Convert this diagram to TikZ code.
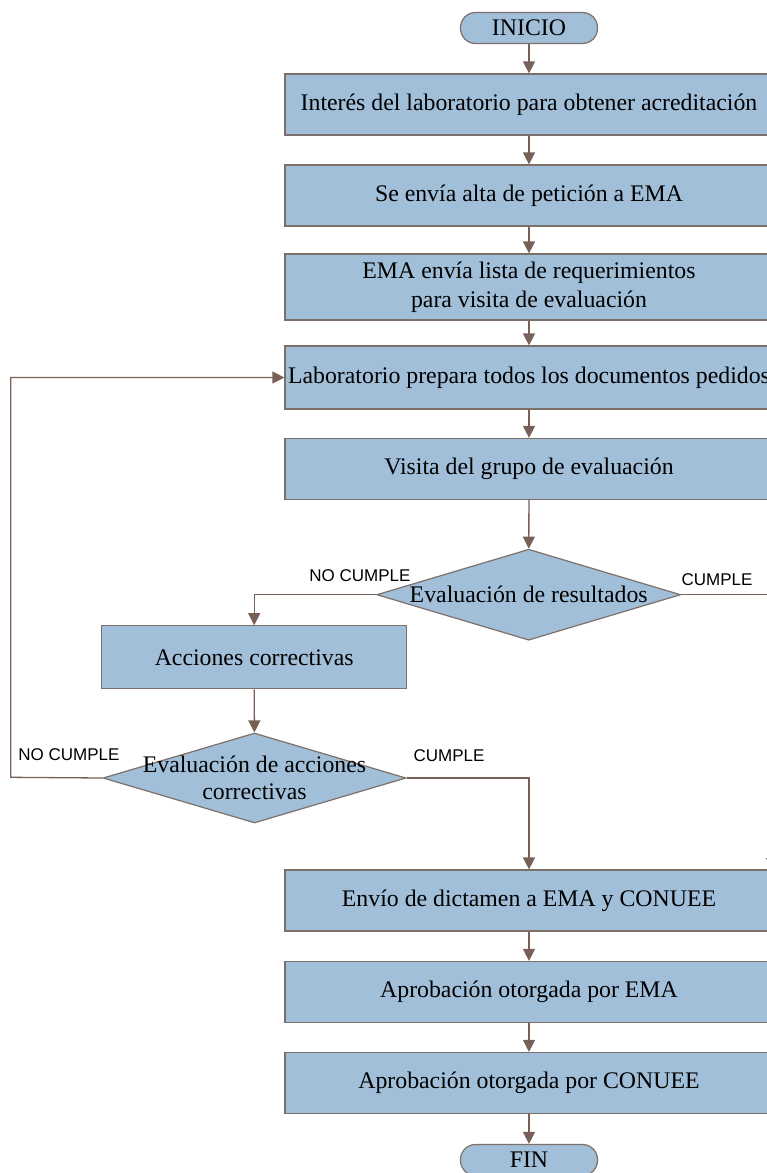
\documentclass[tikz,border=0pt]{standalone}
\usepackage{fontspec}
\setmainfont{Liberation Serif}
\newfontfamily\lblfont{Liberation Sans}
\usetikzlibrary{shapes.geometric,arrows.meta}
\definecolor{boxfill}{RGB}{161,191,216}
\definecolor{boxline}{RGB}{125,112,106}
\definecolor{arrowc}{RGB}{120,96,86}
\begin{document}
\begin{tikzpicture}[x=1pt,y=-1pt,
 box/.style={draw=boxline,line width=1.2pt,fill=boxfill,minimum width=488pt,minimum height=61pt,inner sep=0pt,font=\fontsize{23.8}{29}\selectfont,align=center},
 term/.style={draw=boxline,line width=1.2pt,fill=boxfill,rounded corners=15pt,minimum width=137pt,minimum height=31pt,inner sep=0pt,font=\fontsize{23.8}{28}\selectfont},
 dec/.style={diamond,draw=boxline,line width=1.2pt,fill=boxfill,minimum width=304pt,minimum height=91pt,inner sep=0pt,font=\fontsize{23.8}{26.5}\selectfont,align=center},
 conn/.style={draw=arrowc,line width=1.3pt,-{Triangle[length=12pt,width=12pt]}},
 lbl/.style={font=\lblfont\fontsize{17}{20}\selectfont,inner sep=0pt}]
\useasboundingbox (0,0) rectangle (767,1173);
\clip (0,0) rectangle (767,1173);
\node[term] (start) at (529,28) {INICIO};
\node[box] (b1) at (529,104.5) {Interés del laboratorio para obtener acreditación};
\node[box] (b2) at (529,195.5) {Se envía alta de petición a EMA};
\node[box,minimum height=66pt] (b3) at (529,287) {EMA envía lista de requerimientos\\para visita de evaluación};
\node[box,minimum height=63pt] (b4) at (529,377.5) {Laboratorio prepara todos los documentos pedidos};
\node[box] (b5) at (529,469) {Visita del grupo de evaluación};
\node[dec] (d1) at (528.7,594.7) {\makebox[0pt]{Evaluación de resultados}};
\node[box,minimum width=305pt,minimum height=63pt] (acc) at (254.2,657.3) {Acciones correctivas};
\node[dec,minimum width=303pt,minimum height=90pt] (d2) at (254.5,778) {\makebox[0pt]{Evaluación de acciones}\\\makebox[0pt]{correctivas}};
\node[box] (b6) at (529,900.5) {Envío de dictamen a EMA y CONUEE};
\node[box] (b7) at (529,992) {Aprobación otorgada por EMA};
\node[box] (b8) at (529,1083) {Aprobación otorgada por CONUEE};
\node[term] (fin) at (529,1160) {FIN};
\coordinate (loopx) at (10.7,777.3);
\coordinate (rside) at (772,870);
\node[lbl] (l1) at (360,576) {NO CUMPLE};
\node[lbl] (l2) at (717,580) {CUMPLE};
\node[lbl] (l3) at (69,755) {NO CUMPLE};
\node[lbl] (l4) at (449,756) {CUMPLE};
\draw[conn] (start) -- (b1);
\draw[conn] (b1) -- (b2);
\draw[conn] (b2) -- (b3);
\draw[conn] (b3) -- (b4);
\draw[conn] (b4) -- (b5);
\draw[conn] (b5) -- (d1);
\draw[conn] (d1.west) -| (acc.north);
\draw[conn] (d1.east) -| (rside);
\draw[conn] (acc) -- (d2);
\draw[conn] (d2.west) -- (loopx) |- (b4.west);
\draw[conn] (d2.east) -| (b6.north);
\draw[conn] (b6) -- (b7);
\draw[conn] (b7) -- (b8);
\draw[conn] (b8) -- (fin);
\end{tikzpicture}
\end{document}
